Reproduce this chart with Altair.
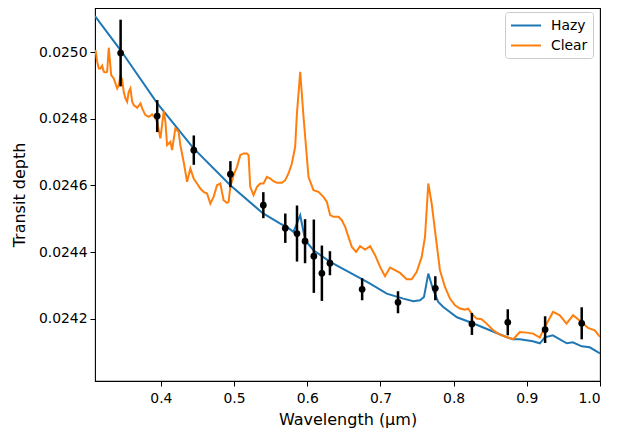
import altair as alt
import pandas as pd

# ---- data ----
series_names = ["Hazy", "Clear"]
series_colors = ["#1f77b4", "#ff7f0e"]

hazy_wavelength = [0.3100, 0.3448, 0.3949, 0.4444, 0.4949, 0.5392, 0.5631, 0.5722, 0.5812,
                   0.5904, 0.5972, 0.6085, 0.6313, 0.6722, 0.6859, 0.7086, 0.7313, 0.7449,
                   0.7541, 0.7595, 0.7654, 0.7722, 0.7790, 0.7859, 0.8045, 0.8264, 0.8496,
                   0.8728, 0.8810, 0.8905, 0.9082, 0.9178, 0.9246, 0.9355, 0.9546, 0.9628,
                   0.9751, 0.9860, 1.0000]
hazy_depth = [0.025108, 0.025006, 0.024847, 0.024712, 0.024601, 0.024517, 0.024486, 0.024476,
              0.024461, 0.024511, 0.024436, 0.024406, 0.024371, 0.024322, 0.024306, 0.024276,
              0.024261, 0.024253, 0.024256, 0.024266, 0.024336, 0.024286, 0.024251, 0.024236,
              0.024205, 0.024187, 0.024166, 0.024145, 0.024139, 0.024139, 0.024133, 0.024127,
              0.024145, 0.024151, 0.024127, 0.024130, 0.024118, 0.024115, 0.024097]

clear_wavelength = [0.3107, 0.3130, 0.3152, 0.3175, 0.3198, 0.3220, 0.3243, 0.3266, 0.3288, 0.3321,
                    0.3356, 0.3403, 0.3425, 0.3448, 0.3471, 0.3493, 0.3516, 0.3539, 0.3561, 0.3584,
                    0.3608, 0.3629, 0.3676, 0.3721, 0.3744, 0.3789, 0.3834, 0.3880, 0.3925, 0.3949,
                    0.3994, 0.4039, 0.4062, 0.4085, 0.4130, 0.4153, 0.4198, 0.4243, 0.4266, 0.4311,
                    0.4358, 0.4403, 0.4448, 0.4494, 0.4539, 0.4584, 0.4631, 0.4676, 0.4721, 0.4767,
                    0.4812, 0.4857, 0.4904, 0.4925, 0.4949, 0.4994, 0.5040, 0.5085, 0.5130, 0.5176,
                    0.5198, 0.5221, 0.5266, 0.5313, 0.5358, 0.5403, 0.5449, 0.5494, 0.5539, 0.5586,
                    0.5654, 0.5699, 0.5744, 0.5790, 0.5835, 0.5859, 0.5904, 0.5949, 0.6017, 0.6085,
                    0.6153, 0.6221, 0.6268, 0.6313, 0.6358, 0.6426, 0.6472, 0.6518, 0.6563, 0.6609,
                    0.6668, 0.6722, 0.6790, 0.6859, 0.6927, 0.6995, 0.7063, 0.7131, 0.7199, 0.7268,
                    0.7359, 0.7427, 0.7496, 0.7564, 0.7609, 0.7654, 0.7700, 0.7768, 0.7813, 0.7882,
                    0.7950, 0.8018, 0.8086, 0.8154, 0.8200, 0.8246, 0.8314, 0.8382, 0.8451, 0.8541,
                    0.8632, 0.8723, 0.8814, 0.8905, 0.8996, 0.9086, 0.9178, 0.9246, 0.9359, 0.9451,
                    0.9542, 0.9632, 0.9747, 0.9837, 0.9928, 1.0000]
clear_depth = [0.025006, 0.024971, 0.024951, 0.024951, 0.024959, 0.024941, 0.024939, 0.024941, 0.025013, 0.024931,
               0.024921, 0.024891, 0.024901, 0.024931, 0.024916, 0.024881, 0.024861, 0.024851, 0.024881, 0.024891,
               0.024851, 0.024841, 0.024833, 0.024846, 0.024831, 0.024811, 0.024806, 0.024813, 0.024801, 0.024791,
               0.024741, 0.024823, 0.024791, 0.024721, 0.024731, 0.024706, 0.024771, 0.024761, 0.024721, 0.024671,
               0.024611, 0.024651, 0.024621, 0.024606, 0.024591, 0.024581, 0.024576, 0.024546, 0.024566, 0.024601,
               0.024606, 0.024556, 0.024548, 0.024551, 0.024596, 0.024631, 0.024656, 0.024691, 0.024696, 0.024696,
               0.024691, 0.024596, 0.024571, 0.024596, 0.024606, 0.024606, 0.024626, 0.024621, 0.024613, 0.024608,
               0.024608, 0.024616, 0.024636, 0.024666, 0.024716, 0.024816, 0.024941, 0.024806, 0.024626, 0.024586,
               0.024581, 0.024566, 0.024551, 0.024511, 0.024506, 0.024506, 0.024496, 0.024476, 0.024446, 0.024416,
               0.024401, 0.024418, 0.024408, 0.024418, 0.024391, 0.024356, 0.024328, 0.024354, 0.024346, 0.024338,
               0.024319, 0.024319, 0.024341, 0.024386, 0.024446, 0.024606, 0.024546, 0.024426, 0.024346, 0.024296,
               0.024261, 0.024241, 0.024231, 0.024228, 0.024231, 0.024216, 0.024201, 0.024199, 0.024186, 0.024166,
               0.024153, 0.024146, 0.024139, 0.024161, 0.024159, 0.024156, 0.024144, 0.024176, 0.024221, 0.024211,
               0.024186, 0.024211, 0.024191, 0.024173, 0.024166, 0.024146]

obs_wavelength = [0.345, 0.395, 0.445, 0.495, 0.540, 0.570, 0.586, 0.597, 0.609, 0.620,
                  0.631, 0.675, 0.724, 0.775, 0.825, 0.874, 0.925, 0.975]
obs_depth = [0.024997, 0.024808, 0.024706, 0.024634, 0.024541, 0.024472, 0.024456, 0.024433,
             0.024388, 0.024337, 0.024367, 0.024289, 0.024250, 0.024292, 0.024185, 0.024190,
             0.024168, 0.024187]
obs_error = [0.000100, 0.000048, 0.000044, 0.000039, 0.000039, 0.000044, 0.000084, 0.000066,
             0.000110, 0.000083, 0.000036, 0.000033, 0.000033, 0.000036, 0.000033, 0.000039,
             0.000040, 0.000048]

x_ticks = [0.4, 0.5, 0.6, 0.7, 0.8, 0.9, 1.0]
y_ticks = [0.0242, 0.0244, 0.0246, 0.0248, 0.0250]

# ---- tables ----
hazy_df = pd.DataFrame({"wavelength": hazy_wavelength, "depth": hazy_depth, "model": series_names[0]})
clear_df = pd.DataFrame({"wavelength": clear_wavelength, "depth": clear_depth, "model": series_names[1]})
obs_df = pd.DataFrame({"wavelength": obs_wavelength, "depth": obs_depth, "err": obs_error})
obs_df["lo"] = obs_df["depth"] - obs_df["err"]
obs_df["hi"] = obs_df["depth"] + obs_df["err"]

x_scale = alt.Scale(domain=[0.31, 1.0], nice=False, zero=False)
y_scale = alt.Scale(domain=[0.024014, 0.025132], nice=False, zero=False)

x_enc = alt.X("wavelength:Q", scale=x_scale,
              axis=alt.Axis(values=x_ticks, format=".1f", title="Wavelength (μm)",
                            labelPadding=5, titlePadding=7))
y_enc = alt.Y("depth:Q", scale=y_scale,
              axis=alt.Axis(values=y_ticks, format=".4f", title="Transit depth",
                            labelPadding=3, titlePadding=11))

color_enc = alt.Color(
    "model:N",
    scale=alt.Scale(domain=series_names, range=series_colors),
    legend=alt.Legend(
        title=None, orient="none", legendX=410, legendY=4,
        symbolType="M-1,0H3", symbolSize=225, symbolStrokeWidth=2,
        labelFontSize=13.9, labelFont="DejaVu Sans", labelColor="black",
        labelOffset=24, padding=5, rowPadding=4,
        fillColor="rgba(255,255,255,0.8)", strokeColor="#cccccc", cornerRadius=3,
    ),
)

hazy_line = alt.Chart(hazy_df).mark_line(strokeWidth=2, clip=True).encode(
    x=x_enc, y=y_enc, color=color_enc)
clear_line = alt.Chart(clear_df).mark_line(strokeWidth=2, clip=True).encode(
    x=x_enc, y=y_enc, color=color_enc)

err_bars = alt.Chart(obs_df).mark_rule(color="black", strokeWidth=2.5).encode(
    x="wavelength:Q", y="lo:Q", y2="hi:Q")
points = alt.Chart(obs_df).mark_circle(color="black", size=45, opacity=1).encode(
    x="wavelength:Q", y="depth:Q")

chart = alt.layer(hazy_line, clear_line, err_bars, points).properties(
    width=505, height=373,
    autosize=alt.AutoSizeParams(type="none"),
    padding={"left": 87, "top": 0, "right": 15, "bottom": 56},
).configure_view(
    stroke="black", strokeWidth=1.1
).configure_axis(
    grid=False, domain=False,
    tickColor="black", tickSize=5, tickWidth=1,
    labelColor="black", labelFont="DejaVu Sans", labelFontSize=13.9,
    titleColor="black", titleFont="DejaVu Sans", titleFontSize=16, titleFontWeight="normal",
)

chart.save("out.html", embed_options={"renderer": "svg", "actions": False})
